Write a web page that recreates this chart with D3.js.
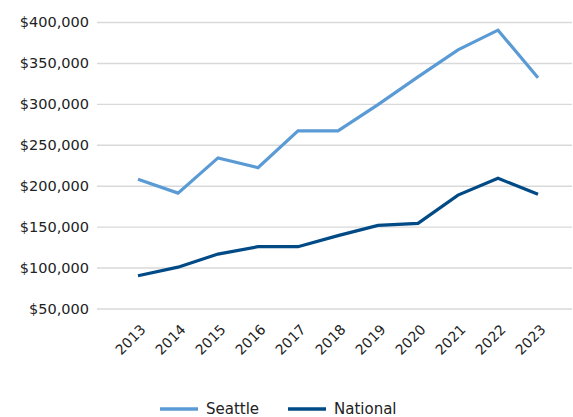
<!doctype html>
<html lang="en">
<head>
<meta charset="utf-8">
<title>Seattle vs National</title>
<script src="https://d3js.org/d3.v7.min.js"></script>
<style>
  body { margin: 0; background: #fff; }
  svg text { font-family: "DejaVu Sans", sans-serif; fill: #222; }
</style>
</head>
<body>
<div id="chart"></div>
<script>
var years = ["2013","2014","2015","2016","2017","2018","2019","2020","2021","2022","2023"];
var seattle = [208000, 191000, 234000, 222000, 267000, 267000, 299000, 333000, 366000, 390000, 332000];
var national = [90000, 100500, 116500, 125500, 125500, 139000, 151500, 154000, 188500, 209000, 189500];
var yTicks = [50000, 100000, 150000, 200000, 250000, 300000, 350000, 400000];

var width = 573, height = 417;
var plotLeft = 97, plotRight = 572, plotTop = 22, plotBottom = 308.5;

var svg = d3.select("#chart").append("svg")
    .attr("width", width)
    .attr("height", height);

// first and last year sit 41px / 34px inside the gridlines
var x = d3.scalePoint()
    .domain(years)
    .range([138, 538]);

var y = d3.scaleLinear()
    .domain([50000, 400000])
    .range([plotBottom, plotTop]);

// gridlines + y labels
var yAxis = svg.append("g")
    .attr("transform", "translate(" + plotLeft + ",0)")
    .call(d3.axisLeft(y)
        .tickValues(yTicks)
        .tickSize(-(plotRight - plotLeft))
        .tickPadding(8)
        .tickFormat(function (d) { return "$" + d3.format(",")(d); }));
yAxis.select(".domain").remove();
yAxis.selectAll(".tick line").attr("stroke", "#d9d9d9").attr("stroke-width", 1.4);
yAxis.selectAll(".tick text").attr("font-size", "14.5px").attr("fill", "#222");

// x labels
var xAxis = svg.append("g")
    .attr("transform", "translate(0," + plotBottom + ")")
    .call(d3.axisBottom(x).tickSize(0).tickPadding(0));
xAxis.select(".domain").remove();
xAxis.selectAll(".tick text")
    .attr("font-size", "14px")
    .attr("fill", "#222")
    .attr("text-anchor", "end")
    .attr("dy", 0)
    .attr("transform", "translate(8,22) rotate(-45)");

var line = d3.line()
    .x(function (d, i) { return x(years[i]); })
    .y(function (d) { return y(d); });

var series = [
    { name: "Seattle", values: seattle, color: "#5b9bd5" },
    { name: "National", values: national, color: "#004a86" }
];

svg.selectAll(".series")
    .data(series)
    .enter()
    .append("path")
    .attr("class", "series")
    .attr("fill", "none")
    .attr("stroke", function (d) { return d.color; })
    .attr("stroke-width", 3.2)
    .attr("stroke-linejoin", "miter")
    .attr("d", function (d) { return line(d.values); });

// legend
var legendX = [160, 288];
var legend = svg.selectAll(".legend")
    .data(series)
    .enter()
    .append("g")
    .attr("class", "legend")
    .attr("transform", function (d, i) { return "translate(" + legendX[i] + ",409)"; });

legend.append("line")
    .attr("x1", 0).attr("x2", 38)
    .attr("stroke", function (d) { return d.color; })
    .attr("stroke-width", 3.5);

legend.append("text")
    .attr("x", 46)
    .attr("dy", "0.36em")
    .attr("font-size", "15px")
    .text(function (d) { return d.name; });
</script>
</body>
</html>
